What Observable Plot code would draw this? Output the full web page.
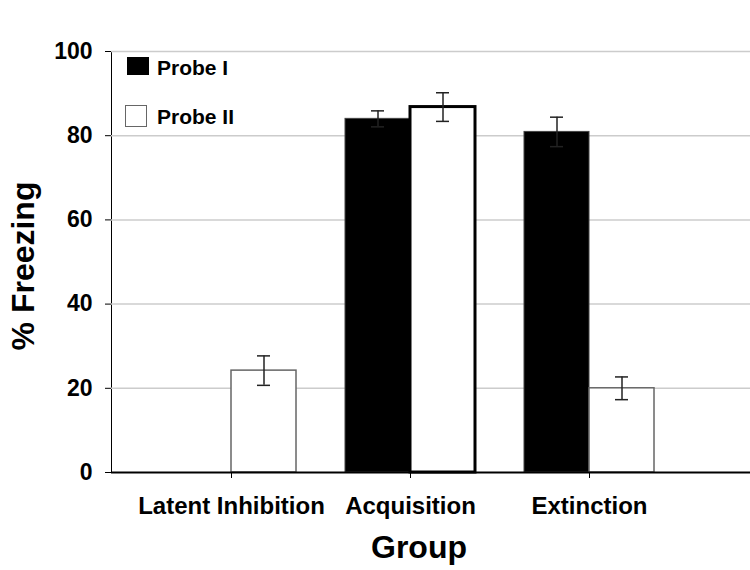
<!DOCTYPE html>
<html>
<head>
<meta charset="utf-8">
<script src="https://cdn.jsdelivr.net/npm/d3@7"></script>
<script src="https://cdn.jsdelivr.net/npm/@observablehq/plot@0.6"></script>
<style>
  html, body { margin: 0; padding: 0; background: #fff; }
  #wrap { position: relative; width: 750px; height: 570px; font-family: "Liberation Sans", Arial, sans-serif; }
  #wrap svg { font-family: "Liberation Sans", Arial, sans-serif; font-weight: bold; }
  #wrap svg g[aria-label="y-axis tick label"] text { font-size: 23px; }
  #wrap svg g[aria-label="x-axis tick label"] text { font-size: 24px; }
  .legend { position: absolute; left: 0; top: 0; font-weight: bold; font-size: 21px; color: #000; }
  .legend .item { position: absolute; white-space: nowrap; }
  .legend .sw { position: absolute; box-sizing: border-box; }
</style>
</head>
<body>
<div id="wrap"></div>
<script>
const groups = ["Latent Inhibition", "Acquisition", "Extinction"];
const probes = ["Probe I", "Probe II"];
const probeIValues = [0, 84.0, 80.9];
const probeIErrors = [0, 1.9, 3.5];
const probeIIValues = [24.2, 86.8, 20.0];
const probeIIErrors = [3.5, 3.4, 2.7];
const yTicks = [0, 20, 40, 60, 80, 100];
const yLabel = "% Freezing";
const xLabel = "Group";

const rows = [];
groups.forEach((g, i) => {
  rows.push({group: g, probe: probes[0], value: probeIValues[i], err: probeIErrors[i]});
  rows.push({group: g, probe: probes[1], value: probeIIValues[i], err: probeIIErrors[i]});
});
const pI = rows.filter(d => d.probe === probes[0]);
const pII = rows.filter(d => d.probe === probes[1]);

const step = 179.5, band = 130, half = band / 2, cap = 13;
const pad = 1 - band / step;

const chart = Plot.plot({
  width: 750,
  height: 570,
  marginLeft: 111,
  marginRight: 0,
  marginTop: 51,
  marginBottom: 98,
  x: {domain: groups, range: [140.25, 140.25 + 3 * step], paddingInner: pad, paddingOuter: pad / 2,
      tickSize: 6, tickPadding: 18, label: null, line: true},
  y: {domain: [0, 100], ticks: yTicks, tickSize: 6, tickPadding: 13, label: null, line: true},
  marks: [
    Plot.ruleY(yTicks.filter(v => v > 0), {stroke: "#cccccc", strokeWidth: 1.5}),
    Plot.barY(pI.filter(d => d.value > 0), {x: "group", y: "value", fill: "#000", stroke: "#444", strokeWidth: 1, insetRight: half}),
    Plot.barY(pII, {x: "group", y: "value", fill: "#fff", stroke: d => d.group === "Acquisition" ? "#000" : "#666",
      strokeWidth: d => d.group === "Acquisition" ? 3 : 1.5, insetLeft: half}),
    Plot.ruleX(pI.filter(d => d.err > 0), {x: "group", y1: d => d.value - d.err, y2: d => d.value + d.err, dx: -half / 2, stroke: "#222", strokeWidth: 1.5}),
    Plot.ruleX(pII.filter(d => d.err > 0), {x: "group", y1: d => d.value - d.err, y2: d => d.value + d.err, dx: half / 2, stroke: "#222", strokeWidth: 1.5}),
    Plot.tickY(pI.filter(d => d.err > 0), {x: "group", y: d => d.value + d.err, insetLeft: half / 2 - cap / 2, insetRight: half + half / 2 - cap / 2, stroke: "#222", strokeWidth: 1.5}),
    Plot.tickY(pI.filter(d => d.err > 0), {x: "group", y: d => d.value - d.err, insetLeft: half / 2 - cap / 2, insetRight: half + half / 2 - cap / 2, stroke: "#222", strokeWidth: 1.5}),
    Plot.tickY(pII.filter(d => d.err > 0), {x: "group", y: d => d.value + d.err, insetLeft: half + half / 2 - cap / 2, insetRight: half / 2 - cap / 2, stroke: "#222", strokeWidth: 1.5}),
    Plot.tickY(pII.filter(d => d.err > 0), {x: "group", y: d => d.value - d.err, insetLeft: half + half / 2 - cap / 2, insetRight: half / 2 - cap / 2, stroke: "#222", strokeWidth: 1.5}),
    Plot.ruleY([0], {stroke: "#000", strokeWidth: 2}),
    Plot.text([xLabel], {text: d => d, frameAnchor: "bottom", textAnchor: "middle", dx: -12, dy: 85, lineAnchor: "bottom", fontSize: 32, fontWeight: "bold", fill: "#000"}),
    Plot.text([yLabel], {text: d => d, frameAnchor: "left", textAnchor: "middle", rotate: -90, dx: -78, dy: 4, lineAnchor: "bottom", fontSize: 32, fontWeight: "bold", fill: "#000"})
  ]
});

const wrap = document.getElementById("wrap");
wrap.appendChild(chart);

const legend = document.createElement("div");
legend.className = "legend";
legend.innerHTML = `
  <div class="sw" style="left:127px;top:57px;width:22px;height:18px;background:#000;"></div>
  <div class="item" style="left:157px;top:56px;">${probes[0]}</div>
  <div class="sw" style="left:125px;top:105px;width:22px;height:22px;background:#fff;border:1.5px solid #666;"></div>
  <div class="item" style="left:157px;top:105px;">${probes[1]}</div>`;
wrap.appendChild(legend);
</script>
</body>
</html>
